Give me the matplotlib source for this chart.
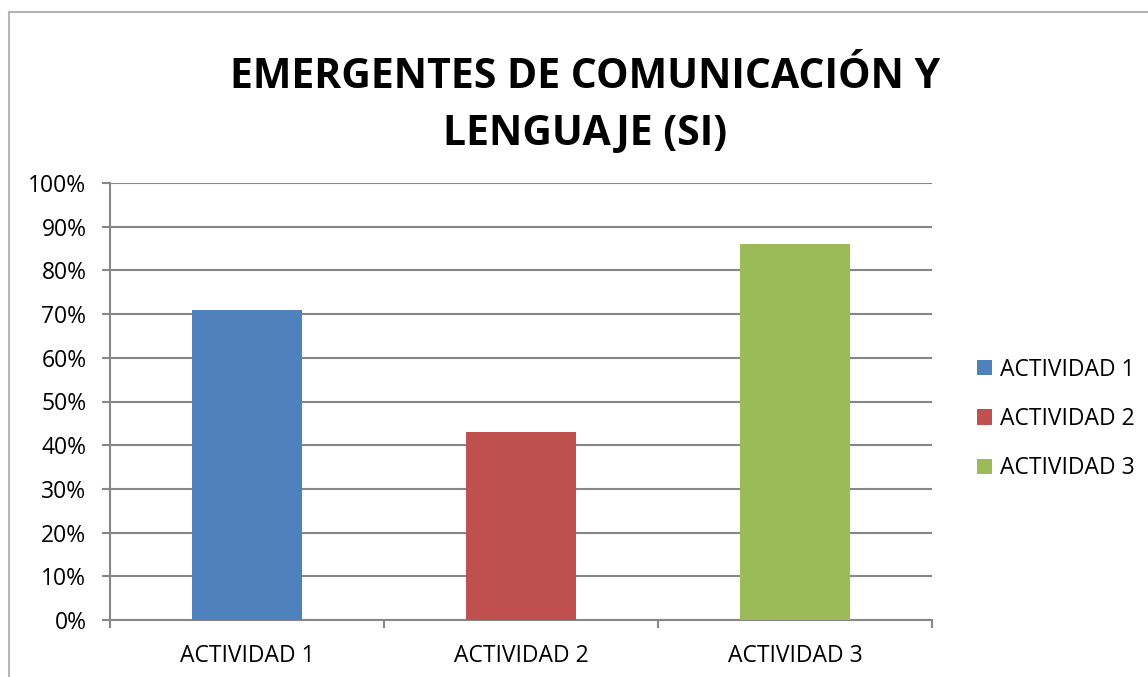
import matplotlib
matplotlib.use("Agg")
import matplotlib.pyplot as plt
from matplotlib.lines import Line2D
from matplotlib.ticker import FixedLocator, PercentFormatter

categories = ["ACTIVIDAD 1", "ACTIVIDAD 2", "ACTIVIDAD 3"]
values = [0.71, 0.43, 0.86]
colors = ["#4F81BD", "#C0504D", "#9BBB59"]
title = "EMERGENTES DE COMUNICACIÓN Y\nLENGUAJE (SI)"
yticks = [i / 10 for i in range(11)]

plt.rcParams['font.family'] = ['Open Sans', 'DejaVu Sans']

W, H = 1148, 677
fig = plt.figure(figsize=(W / 100, H / 100), dpi=100)
ax = fig.add_axes([110 / W, 1 - 620 / H, (932 - 110) / W, (620 - 183) / H])

x = range(len(categories))
bars = ax.bar(x, values, width=0.4, color=colors, label=categories, zorder=3)

ax.set_xlim(-0.5, 2.5)
ax.set_ylim(0, 1)
ax.yaxis.set_major_locator(FixedLocator(yticks))
ax.yaxis.set_major_formatter(PercentFormatter(1.0, decimals=0))
ax.grid(axis='y', color='#878787', linewidth=1.5, zorder=0)
ax.set_axisbelow(True)

ax.set_xticks([-0.5, 0.5, 1.5, 2.5])
ax.set_xticklabels([])
ax.set_xticks(list(x), minor=True)
ax.set_xticklabels(categories, minor=True)
ax.tick_params(axis='x', which='minor', length=0, pad=17, labelsize=16.5)
ax.tick_params(axis='x', which='major', length=6, width=1.5, color='#878787', direction='out')
ax.tick_params(axis='y', length=6, width=1.5, color='#878787', direction='out', labelsize=16.5, pad=11)

for s in ['top', 'right']:
    ax.spines[s].set_visible(False)
for s in ['left', 'bottom']:
    ax.spines[s].set_color('#878787')
    ax.spines[s].set_linewidth(1.5)

fig.text(585 / W, 1 - 106 / H, title, ha='center', va='center', fontsize=29.5,
         fontweight='bold', linespacing=1.5)

leg = fig.legend(handles=list(bars), labels=categories, loc='center left',
                 bbox_to_anchor=(956 / W, 1 - 419 / H), frameon=False,
                 fontsize=16.5, handlelength=0.65, handleheight=0.65,
                 handletextpad=0.35, labelspacing=1.1)

fig.add_artist(Line2D([9 / W, 1], [1 - 12 / H, 1 - 12 / H], color='#b5b5b5', linewidth=1.5))
fig.add_artist(Line2D([9 / W, 9 / W], [0, 1 - 12 / H], color='#b5b5b5', linewidth=1.5))

fig.savefig("out.png", dpi=100)
